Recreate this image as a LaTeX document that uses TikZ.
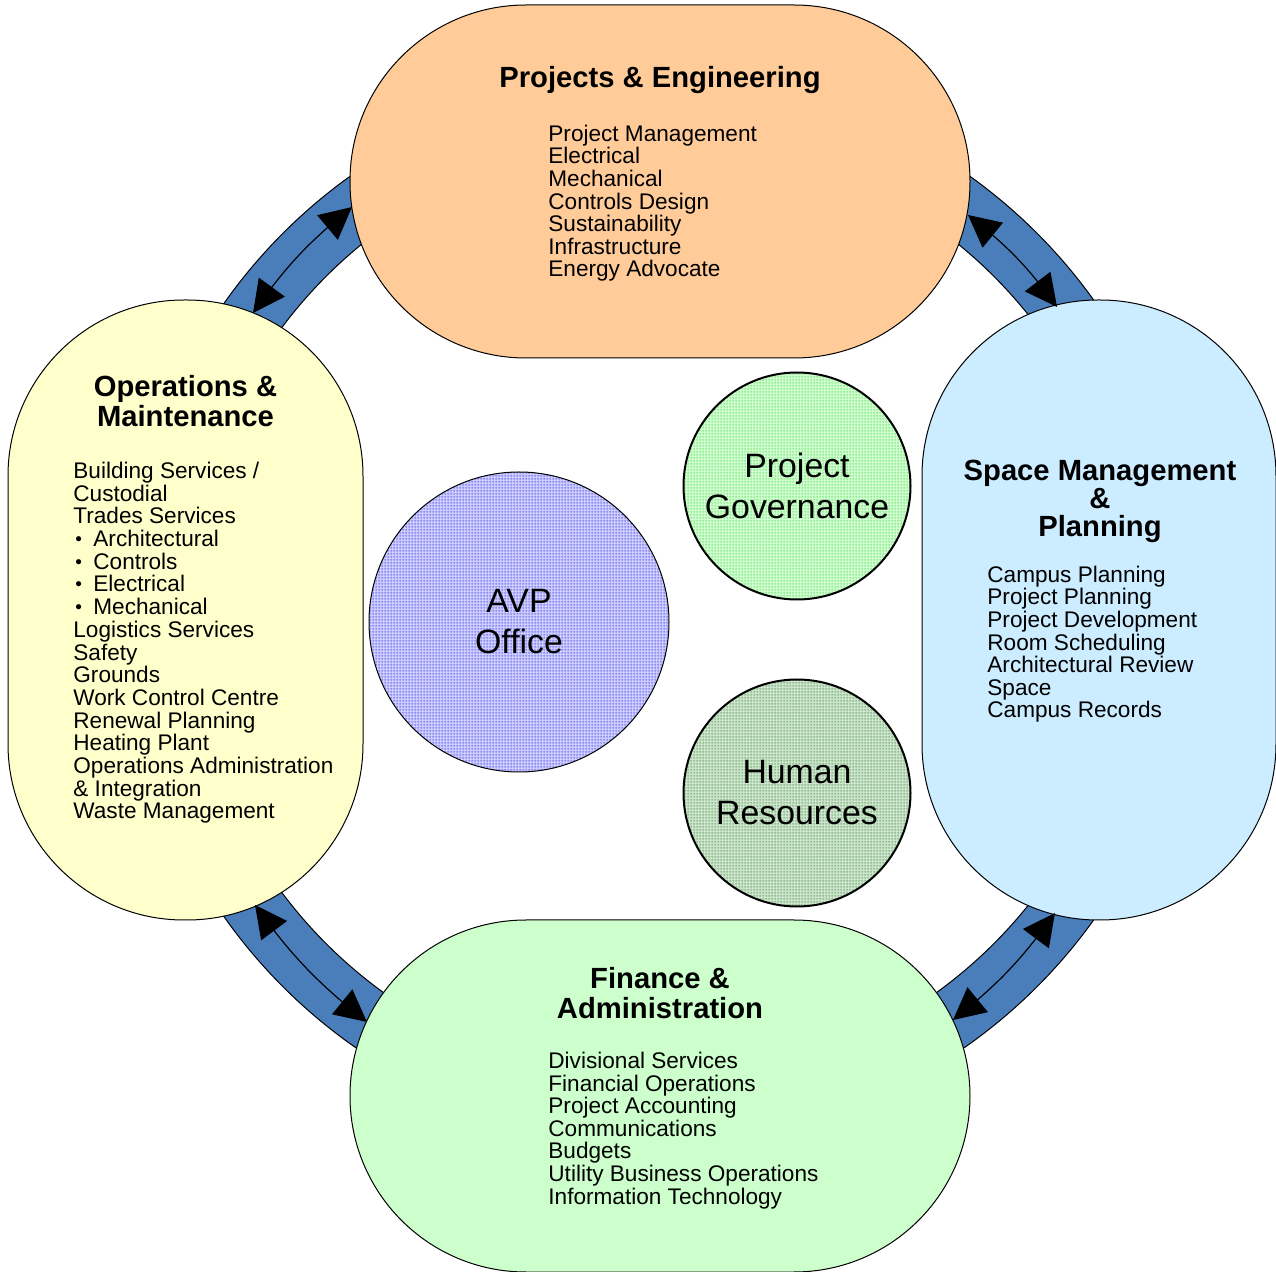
\documentclass[tikz,border=0pt]{standalone}
\usepackage{fontspec}
\setmainfont{Liberation Sans}
\usetikzlibrary{arrows.meta,patterns.meta,bending}

\definecolor{ringblue}{HTML}{4A7EBB}
\definecolor{peFill}{HTML}{FFCC99}
\definecolor{omFill}{HTML}{FFFFCC}
\definecolor{smFill}{HTML}{CCECFF}
\definecolor{faFill}{HTML}{CCFFCC}
\definecolor{pgBack}{HTML}{D6FFD6}
\definecolor{pgLine}{HTML}{78E478}
\definecolor{avBack}{HTML}{D2D2FF}
\definecolor{avLine}{HTML}{6C6CEE}
\definecolor{hrBack}{HTML}{D2E8D2}
\definecolor{hrLine}{HTML}{74AC74}

% fine square mesh used to fill the three central circles
\pgfdeclarepattern{
  name=finegrid,
  type=uncolored,
  bottom left={\pgfpoint{0pt}{0pt}},
  top right={\pgfpoint{1.5pt}{1.5pt}},
  tile size={\pgfpoint{1.5pt}{1.5pt}},
  code={
    \pgfsetlinewidth{0.45pt}
    \pgfpathmoveto{\pgfpoint{0pt}{0.75pt}}
    \pgfpathlineto{\pgfpoint{1.5pt}{0.75pt}}
    \pgfpathmoveto{\pgfpoint{0.75pt}{0pt}}
    \pgfpathlineto{\pgfpoint{0.75pt}{1.5pt}}
    \pgfusepath{stroke}
  }
}

\newcommand{\blt}{\hspace*{1pt}\makebox[9pt][l]{\raisebox{0.1ex}{\fontsize{9.5}{9.5}\selectfont\textbullet}}}

% multi-line text nodes are placed by the baseline of their last line
\tikzset{
  unit/.style={draw=black, line width=0.5pt, rounded corners=88pt, inner sep=0pt},
  headtext/.style={font=\bfseries\fontsize{14.6}{15}\selectfont, align=center, inner sep=0pt, anchor=base},
  listtext/.style={font=\fontsize{11.3}{11.3}\selectfont, align=left, inner sep=0pt, anchor=base west},
  core/.style={circle, draw=black, inner sep=0pt, align=center,
    font=\fontsize{16.9}{20.5}\selectfont, pattern=finegrid},
  link/.style={draw=black, line width=0.6pt, >={Triangle[length=16pt,width=16pt]}, <->, bend left=8}
}

\begin{document}
\begin{tikzpicture}[x=0.5pt,y=-0.5pt]
\useasboundingbox (0,0) rectangle (1276,1272);

% blue ring linking the four units
\fill[ringblue, draw=black, line width=0.5pt, even odd rule]
  (660,610) circle[radius=533] (660,610) circle[radius=472];

% four units
\node[unit, fill=peFill, minimum width=310pt, minimum height=176.5pt] (pe) at (660,181.5) {};
\node[unit, fill=omFill, minimum width=177.5pt, minimum height=310pt] (om) at (185.5,610) {};
\node[unit, fill=smFill, minimum width=177pt, minimum height=310pt] (sm) at (1099,610) {};
\node[unit, fill=faFill, minimum width=310pt, minimum height=176pt] (fa) at (660,1096) {};

% unit texts
\node[headtext] (peh) at (660,88) {Projects \& Engineering};
\node[listtext] (pel) at (548,277) {Project Management\\Electrical\\Mechanical\\Controls Design\\Sustainability\\Infrastructure\\Energy Advocate};

\node[headtext] (omh) at (185.5,427) {Operations \&\\Maintenance};
\node[listtext, font=\fontsize{11.3}{11.35}\selectfont] (oml) at (73,819) {Building Services /\\Custodial\\Trades Services\\\blt Architectural\\\blt Controls\\\blt Electrical\\\blt Mechanical\\Logistics Services\\Safety\\Grounds\\Work Control Centre\\Renewal Planning\\Heating Plant\\Operations Administration\\\& Integration\\Waste Management};

\node[headtext, font=\bfseries\fontsize{14.6}{14}\selectfont] (smh) at (1100,537) {Space Management\\\&\\Planning};
\node[listtext] (sml) at (987,718) {Campus Planning\\Project Planning\\Project Development\\Room Scheduling\\Architectural Review\\Space\\Campus Records};

\node[headtext] (fah) at (660,1019) {Finance \&\\Administration};
\node[listtext] (fal) at (548,1204) {Divisional Services\\Financial Operations\\Project Accounting\\Communications\\Budgets\\Utility Business Operations\\Information Technology};

% arrow end points on the unit borders
\coordinate (omTop) at (253,313);
\coordinate (peLeft) at (352,207);
\coordinate (peRight) at (968,215);
\coordinate (smTop) at (1057,307);
\coordinate (smBot) at (1055,913);
\coordinate (faRight) at (953,1020);
\coordinate (faLeft) at (367,1022);
\coordinate (omBot) at (255,905);

\draw[link] (omTop) to (peLeft);
\draw[link] (peRight) to (smTop);
\draw[link] (smBot) to (faRight);
\draw[link] (faLeft) to (omBot);

% central circles
\node[core, line width=1pt, minimum size=113.5pt, preaction={fill=pgBack}, pattern color=pgLine] (pg) at (797,486) {Project\\Governance};
\node[core, line width=0.5pt, minimum size=150pt, preaction={fill=avBack}, pattern color=avLine] (avp) at (519,622) {AVP\\Office};
\node[core, line width=1pt, minimum size=113.5pt, preaction={fill=hrBack}, pattern color=hrLine] (hr) at (797,793) {Human\\Resources};
\end{tikzpicture}
\end{document}
